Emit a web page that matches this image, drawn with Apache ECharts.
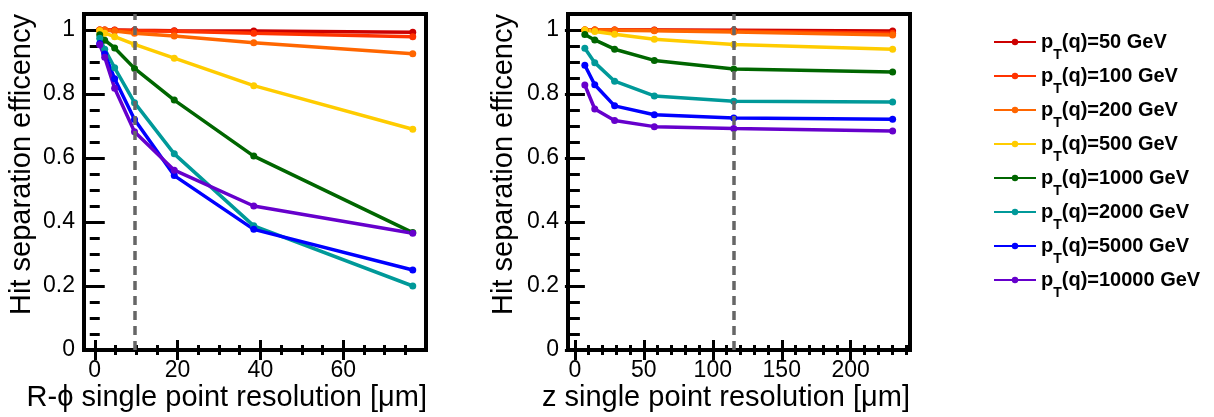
<!DOCTYPE html>
<html>
<head>
<meta charset="utf-8">
<script src="https://cdn.jsdelivr.net/npm/echarts@6.0.0/dist/echarts.min.js"></script>
<style>
  html, body { margin: 0; padding: 0; background: #fff; }
  #chart { width: 1214px; height: 417px; }
</style>
</head>
<body>
<div id="chart"></div>
<script>
const chart = echarts.init(document.getElementById("chart"));
const font = "Liberation Sans, Arial, sans-serif";

// legend entries / colours
const ptLabels = ["50", "100", "200", "500", "1000", "2000", "5000", "10000"];
const colors = ["#cc0000", "#ff3300", "#ff6600", "#ffcc00", "#006600", "#009999", "#0000ff", "#6600cc"];

// left: R-phi resolution
const rphiRes = [1.2, 2.4, 4.8, 9.6, 19.2, 38.4, 76.8];
const rphiEff = [
  [1.0, 1.0, 1.0, 0.999, 0.998, 0.997, 0.993],
  [1.0, 1.0, 0.999, 0.998, 0.996, 0.99, 0.979],
  [1.0, 0.999, 0.997, 0.99, 0.981, 0.96, 0.926],
  [0.998, 0.99, 0.979, 0.955, 0.912, 0.826, 0.69],
  [0.985, 0.968, 0.944, 0.88, 0.781, 0.606, 0.367],
  [0.974, 0.94, 0.882, 0.773, 0.613, 0.388, 0.2],
  [0.958, 0.925, 0.848, 0.72, 0.545, 0.377, 0.25],
  [0.954, 0.915, 0.818, 0.682, 0.562, 0.45, 0.365],
];

// right: z resolution
const zRes = [7.2, 14.4, 28.8, 57.6, 115.2, 230.4];
const zEff = [
  [1.0, 1.0, 1.0, 1.0, 0.999, 0.997],
  [1.0, 1.0, 1.0, 0.999, 0.997, 0.99],
  [1.0, 1.0, 0.999, 0.998, 0.994, 0.984],
  [1.0, 0.995, 0.987, 0.971, 0.955, 0.94],
  [0.986, 0.969, 0.94, 0.905, 0.878, 0.869],
  [0.943, 0.898, 0.84, 0.794, 0.777, 0.775],
  [0.89, 0.829, 0.763, 0.735, 0.725, 0.721],
  [0.828, 0.753, 0.717, 0.698, 0.692, 0.684],
];

// dashed reference lines
const rphiCut = 9.6;
const zCut = 115.2;

// ticks
const yTicks = [0, 0.2, 0.4, 0.6, 0.8, 1];
const yMinor = [0.05, 0.1, 0.15, 0.25, 0.3, 0.35, 0.45, 0.5, 0.55, 0.65, 0.7, 0.75, 0.85, 0.9, 0.95];
const rphiTicks = [0, 20, 40, 60];
const rphiMinor = [5, 10, 15, 25, 30, 35, 45, 50, 55, 65, 70, 75];
const zTicks = [0, 50, 100, 150, 200];
const zMinor = [10, 20, 30, 40, 60, 70, 80, 90, 110, 120, 130, 140, 160, 170, 180, 190, 210, 220, 230, 240];

const yRange = [0, 1.05];
const rphiRange = [-2.6, 80];
const zRange = [-5, 243];

function axis(grid, pos, range, ticks, len, labels) {
  return {
    type: "value",
    gridIndex: grid,
    position: pos,
    min: range[0],
    max: range[1],
    axisLine: { show: false },
    splitLine: { show: false },
    axisTick: {
      show: true,
      inside: true,
      length: len,
      customValues: ticks,
      lineStyle: { color: "#000", width: 3 },
    },
    axisLabel: labels
      ? { show: true, customValues: ticks, fontSize: 23, color: "#000", fontFamily: font, margin: 9 }
      : { show: false },
  };
}

const xAxes = [
  axis(0, "bottom", rphiRange, rphiTicks, 10, true),
  axis(0, "bottom", rphiRange, rphiMinor, 5, false),
  axis(0, "top", rphiRange, rphiTicks, 10, false),
  axis(0, "top", rphiRange, rphiMinor, 5, false),
  axis(1, "bottom", zRange, zTicks, 10, true),
  axis(1, "bottom", zRange, zMinor, 5, false),
  axis(1, "top", zRange, zTicks, 10, false),
  axis(1, "top", zRange, zMinor, 5, false),
];
const yAxes = [
  axis(0, "left", yRange, yTicks, 10, true),
  axis(0, "left", yRange, yMinor, 5, false),
  axis(0, "right", yRange, yTicks, 10, false),
  axis(0, "right", yRange, yMinor, 5, false),
  axis(1, "left", yRange, yTicks, 10, true),
  axis(1, "left", yRange, yMinor, 5, false),
  axis(1, "right", yRange, yTicks, 10, false),
  axis(1, "right", yRange, yMinor, 5, false),
];

function cutLine(x) {
  return {
    silent: true,
    symbol: "none",
    label: { show: false },
    lineStyle: { type: [9, 6], color: "#666", width: 3.5 },
    data: [{ xAxis: x }],
  };
}

const series = [];
ptLabels.forEach((pt, i) => {
  const base = {
    name: pt,
    type: "line",
    symbol: "circle",
    symbolSize: 7,
    color: colors[i],
    lineStyle: { width: 3.5 },
  };
  series.push(Object.assign({}, base, {
    xAxisIndex: 0,
    yAxisIndex: 0,
    data: rphiRes.map((x, j) => [x, rphiEff[i][j]]),
    markLine: i === ptLabels.length - 1 ? cutLine(rphiCut) : undefined,
  }));
  series.push(Object.assign({}, base, {
    xAxisIndex: 4,
    yAxisIndex: 4,
    data: zRes.map((x, j) => [x, zEff[i][j]]),
    markLine: i === ptLabels.length - 1 ? cutLine(zCut) : undefined,
  }));
});

const gridStyle = { show: true, borderColor: "#000", borderWidth: 4, backgroundColor: "transparent", outerBoundsMode: "none" };

chart.setOption({
  animation: false,
  backgroundColor: "#fff",
  grid: [
    Object.assign({ left: 84, top: 14, width: 342, height: 336 }, gridStyle),
    Object.assign({ left: 568, top: 14, width: 342, height: 336 }, gridStyle),
  ],
  xAxis: xAxes,
  yAxis: yAxes,
  legend: {
    orient: "vertical",
    left: 988,
    top: 27,
    itemWidth: 42,
    itemHeight: 8,
    itemGap: 4,
    selectedMode: false,
    data: ptLabels,
    formatter: (name) => `{p|p}{t|T}{p|(q)=${name} GeV}`,
    textStyle: {
      rich: {
        p: { fontSize: 20, fontWeight: "bold", fontFamily: font, color: "#000" },
        t: { fontSize: 14, fontWeight: "bold", fontFamily: font, color: "#000", padding: [26, 0, 0, 0] },
      },
    },
  },
  graphic: [
    { type: "text", x: 427, y: 398, style: { text: "R-\u03d5 single point resolution [\u03bcm]", font: "29px " + font, fill: "#000", align: "right", verticalAlign: "middle" } },
    { type: "text", x: 910, y: 398, style: { text: "z single point resolution [\u03bcm]", font: "29px " + font, fill: "#000", align: "right", verticalAlign: "middle" } },
    { type: "text", x: 22, y: 14, rotation: Math.PI / 2, style: { text: "Hit separation efficency", font: "29px " + font, fill: "#000", align: "right", verticalAlign: "middle" } },
    { type: "text", x: 504, y: 14, rotation: Math.PI / 2, style: { text: "Hit separation efficency", font: "29px " + font, fill: "#000", align: "right", verticalAlign: "middle" } },
  ],
  series: series,
});
</script>
</body>
</html>
